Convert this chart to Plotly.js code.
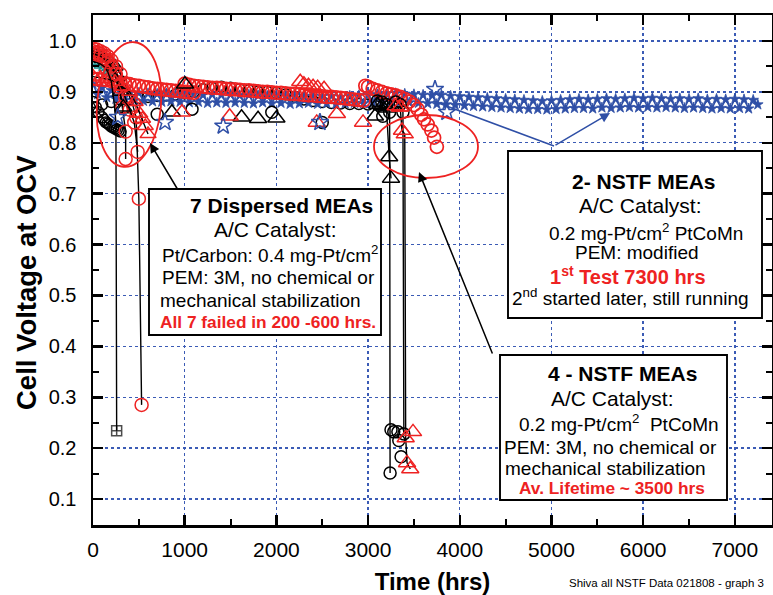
<!DOCTYPE html>
<html><head><meta charset="utf-8">
<script src="https://cdn.plot.ly/plotly-3.0.1.min.js"></script>
<style>body{margin:0;background:#fff}</style>
</head><body><div id="chart" style="width:773px;height:595px"></div>
<script>
// ---------------- DATA ----------------
const xTicks = [0,1000,2000,3000,4000,5000,6000,7000];
const yTicks = [0.1,0.2,0.3,0.4,0.5,0.6,0.7,0.8,0.9,1.0];

// NSTF 1st test (blue stars, 0 - 7250 hrs)
const blueX = [0,50,100,150,200,250,300,350,400,450,
500,550,600,650,700,750,800,850,900,950,
1000,1050,1100,1150,1200,1250,1300,1350,1400,1450,
1500,1550,1600,1650,1700,1750,1800,1850,1900,1950,
2000,2050,2100,2150,2200,2250,2300,2350,2400,2450,
2500,2550,2600,2650,2700,2750,2800,2850,2900,2950,
3000,3050,3100,3150,3200,3250,3300,3350,3400,3450,
3500,3550,3600,3650,3700,3750,3800,3850,3900,3950,
4000,4050,4100,4150,4200,4250,4300,4350,4400,4450,
4500,4550,4600,4650,4700,4750,4800,4850,4900,4950,
5000,5050,5100,5150,5200,5250,5300,5350,5400,5450,
5500,5550,5600,5650,5700,5750,5800,5850,5900,5950,
6000,6050,6100,6150,6200,6250,6300,6350,6400,6450,
6500,6550,6600,6650,6700,6750,6800,6850,6900,6950,
7000,7050,7100,7150,7200,7250];
const blueY = [0.915,0.895,0.908,0.889,0.903,0.886,0.901,0.884,0.899,0.883,
0.898,0.882,0.897,0.881,0.896,0.880,0.897,0.881,0.895,0.880,
0.896,0.879,0.895,0.880,0.894,0.878,0.895,0.879,0.894,0.878,
0.895,0.879,0.893,0.878,0.894,0.877,0.893,0.879,0.892,0.877,
0.893,0.878,0.892,0.876,0.893,0.877,0.891,0.878,0.892,0.876,
0.891,0.877,0.892,0.876,0.890,0.877,0.892,0.878,0.893,0.877,
0.894,0.879,0.895,0.880,0.896,0.881,0.897,0.880,0.896,0.879,
0.895,0.878,0.894,0.877,0.893,0.876,0.894,0.875,0.892,0.874,
0.891,0.873,0.890,0.872,0.889,0.871,0.888,0.870,0.887,0.869,
0.886,0.868,0.885,0.867,0.884,0.866,0.883,0.866,0.882,0.865,
0.883,0.866,0.884,0.867,0.885,0.868,0.886,0.868,0.885,0.867,
0.886,0.869,0.887,0.868,0.886,0.869,0.887,0.870,0.888,0.869,
0.887,0.870,0.888,0.869,0.887,0.870,0.886,0.869,0.887,0.868,
0.886,0.869,0.887,0.868,0.885,0.867,0.886,0.868,0.885,0.867,
0.886,0.868,0.885,0.867,0.884,0.875];
const blueStarX = [270,785,1420,2475,3730,3860];
const blueStarY = [0.850,0.840,0.833,0.840,0.905,0.860];

// red circle bands
const redBand1X = [0,50,100,150,200,250,300,350,400,450,500,550,600,650,700,750,800,850,900,950,1000,1050,1100];
const redBand1Y = [0.926,0.925,0.924,0.923,0.921,0.920,0.918,0.917,0.915,0.913,0.912,0.910,0.909,0.907,0.906,0.905,0.904,0.903,0.902,0.901,0.900,0.899,0.898];
const redBand2X = [1000,1050,1100,1150,1200,1250,1300,1350,1400,1450,1500,1550,1600,1650,1700,1750,1800,1850,1900,1950,
2000,2050,2100,2150,2200,2250,2300,2350,2400,2450,2500,2550,2600,2650,2700,2750,2800,2850,2900,2950];
const redBand2Y = [0.916,0.914,0.912,0.911,0.910,0.909,0.908,0.908,0.907,0.906,0.905,0.905,0.904,0.903,0.903,0.902,0.901,0.900,0.900,0.899,
0.898,0.898,0.897,0.896,0.896,0.895,0.894,0.893,0.893,0.892,0.891,0.890,0.890,0.889,0.888,0.887,0.886,0.885,0.884,0.883];
const redNstfX = [2970,3000,3050,3100,3150,3200,3250,3300,3350,3400,3450,3500,3540,3580,3610,3650,3690,3720,3750];
const redNstfY = [0.912,0.910,0.906,0.903,0.900,0.897,0.895,0.893,0.890,0.886,0.881,0.874,0.866,0.855,0.846,0.836,0.824,0.810,0.792];

// black circle band
const blackBandX = [0,100,200,300,400,500,600,700,800,900,1000,1100,1200,1300,1400,1500,1600,1700,1800,1900,2000,2100,2200,2300,2400,2500,2600,2700,2800,2900,3000,3100,3200];
const blackBandY = [0.870,0.875,0.880,0.885,0.886,0.888,0.890,0.892,0.893,0.895,0.897,0.900,0.905,0.908,0.910,0.908,0.905,0.903,0.900,0.900,0.898,0.895,0.890,0.885,0.882,0.880,0.878,0.877,0.876,0.876,0.875,0.875,0.874];
const blackCircX = [700,1080,1950,2500,3160];
const blackCircY = [0.856,0.866,0.860,0.840,0.852];
const blackTriX = [330,860,1003,1620,1800,2000,3075];
const blackTriY = [0.870,0.860,0.915,0.850,0.847,0.848,0.852];
const redTriX = [970,1490,2260,2300,2350,2400,2450,2520,2440,2660,2945,3350,3490];
const redTriY = [0.860,0.852,0.920,0.915,0.912,0.910,0.908,0.906,0.840,0.857,0.840,0.870,0.232];

// 7 dispersed MEAs (failed 200-600 hrs)
const d1X = [0,40,80,120,160,200,230,250,258];
const d1Y = [0.960,0.958,0.955,0.950,0.940,0.920,0.880,0.840,0.234];
const d2X = [0,40,80,120,160,200,250,300,350,400,440,470,500,530];
const d2Y = [0.985,0.983,0.980,0.976,0.970,0.962,0.950,0.935,0.915,0.890,0.870,0.850,0.690,0.285];
const d3X = [0,40,80,120,160,200,240,280,320,356,356];
const d3Y = [0.980,0.978,0.975,0.970,0.962,0.950,0.935,0.910,0.870,0.822,0.768];
const d4X = [0,40,80,120,160,200,250,300,350,400,450,487];
const d4Y = [0.975,0.973,0.970,0.965,0.958,0.950,0.935,0.915,0.890,0.865,0.840,0.782];
const d5X = [0,30,60,100,120,140,160,180,200,220,240,260,280,300];
const d5Y = [0.880,0.870,0.860,0.850,0.845,0.840,0.838,0.835,0.832,0.830,0.828,0.826,0.824,0.822];
const d6X = [0,50,100,150,200,240,270,300,330];
const d6Y = [0.970,0.968,0.965,0.960,0.955,0.950,0.930,0.900,0.866];
const d7X = [0,80,160,240,320,400,460,510,540,570,600];
const d7Y = [0.930,0.928,0.925,0.920,0.910,0.900,0.880,0.857,0.847,0.833,0.817];
const d8X = [0,50,100,150,200];
const d8Y = [0.955,0.950,0.945,0.940,0.935];

// 4 NSTF MEAs (av. lifetime ~3500 hrs)
const n1X = [3100,3150,3200,3235,3240];
const n1Y = [0.882,0.880,0.875,0.860,0.151];
const n2X = [3100,3150,3200,3230,3250];
const n2Y = [0.875,0.872,0.868,0.772,0.730];
const n3X = [3300,3350,3380,3390];
const n3Y = [0.880,0.875,0.860,0.228];
const n3cX = [3250,3280,3325,3335,3360];
const n3cY = [0.236,0.232,0.232,0.215,0.183];
const n4X = [3300,3350,3370,3400,3410,3425,3460];
const n4Y = [0.872,0.870,0.824,0.817,0.220,0.171,0.159];

// annotation texts
const yTitle = '<b>Cell Voltage at OCV</b>';
const xTitle = '<b>Time (hrs)</b>';
const box1Lines = ['<b>7 Dispersed MEAs</b>','A/C Catalyst:','Pt/Carbon: 0.4 mg-Pt/cm<sup>2</sup>','PEM: 3M, no chemical or','mechanical stabilization','<b>All 7 failed in 200 -600 hrs.</b>'];
const box2Lines = ['<b>2- NSTF MEAs</b>','A/C Catalyst:','0.2 mg-Pt/cm<sup>2</sup> PtCoMn','PEM: modified','<b>1<sup>st</sup> Test 7300 hrs</b>','2<sup>nd</sup> started later, still running'];
const box3Lines = ['<b>4 - NSTF MEAs</b>','A/C Catalyst:','0.2 mg-Pt/cm<sup>2</sup>  PtCoMn','PEM: 3M, no chemical or','mechanical stabilization','<b>Av. Lifetime ~ 3500 hrs</b>'];
const footnote = 'Shiva all NSTF Data 021808 - graph 3';

// ---------------- STYLE / LAYOUT ----------------
const RED = '#EE2222', BLUE = '#2F4FA6', BLK = '#000000';
const ARIAL = 'Arial, "Liberation Sans", sans-serif';
const P = {l:93, t:15, w:679, h:510};
const fx = x => (x - P.l) / P.w;
const fy = y => (P.t + P.h - y) / P.h;

function mk(x, y, sym, color, size, opts) {
  opts = opts || {};
  return {
    type:'scatter', x:x, y:y, mode: opts.line ? 'lines+markers' : 'markers',
    line: {color: opts.lineColor || BLK, width: opts.lw || 1.4},
    marker: {symbol: sym, size: size, color: color, line: {color: color, width: opts.mw || 1.5}},
    hoverinfo:'skip', showlegend:false
  };
}
const lastOnly = (arr, s) => arr.map((_, i) => i === arr.length - 1 ? s : 0);

const traces = [
  mk(blackBandX, blackBandY, 'circle-open', BLK, 11),
  mk(blueX, blueY, 'star', BLUE, 8, {line:true, lineColor:BLUE, lw:1.5, mw:0.8}),
  mk(blackCircX, blackCircY, 'circle-open', BLK, 12),
  mk(redBand1X, redBand1Y, 'circle-open', RED, 13, {mw:1.7}),
  mk(redBand2X, redBand2Y, 'circle-open', RED, 13, {mw:1.7}),
  mk(redNstfX, redNstfY, 'circle-open', RED, 13, {mw:1.7}),
  mk(d8X, d8Y, 'triangle-up-open', '#1A8C8C', 6, {line:true, lineColor:'#1A8C8C'}),
  mk(d5X, d5Y, 'circle-open', BLK, 11, {line:true}),
  mk(d6X, d6Y, 'triangle-up-open', BLK, 14, {line:true}),
  mk(d2X, d2Y, 'circle-open', RED, 13, {line:true}),
  mk(d3X, d3Y, 'circle-open', RED, 13, {line:true}),
  mk(d4X, d4Y, 'circle-open', RED, 13, {line:true}),
  mk(d7X, d7Y, 'triangle-up-open', RED, 14, {line:true}),
  mk(d1X, d1Y, 'square-cross-open', BLK, 10, {line:true}),
  mk(n1X, n1Y, 'circle-open', BLK, 12, {line:true}),
  mk(n2X, n2Y, 'triangle-up-open', BLK, 15, {line:true}),
  mk(n3X, n3Y, 'circle-open', BLK, 12, {line:true}),
  mk(n3cX, n3cY, 'circle-open', BLK, 12),
  mk(n4X, n4Y, 'triangle-up-open', RED, 15, {line:true}),
  mk(blackTriX, blackTriY, 'triangle-up-open', BLK, 15),
  mk(redTriX, redTriY, 'triangle-up-open', RED, 15),
  mk(blueStarX, blueStarY, 'star-open', BLUE, 13)
];
traces[13].marker.size = lastOnly(d1X, 10);

const axisCommon = {
  showline:true, linecolor:BLK, linewidth:2.5, mirror:'allticks',
  ticks:'inside', ticklen:10, tickwidth:2.5, tickcolor:BLK,
  showgrid:true, gridcolor:'#3B5BB5', griddash:'dot', gridwidth:1.4,
  zeroline:false, fixedrange:true
};
const layout = {
  width:773, height:595, autosize:false,
  margin:{l:P.l, r:773-P.l-P.w, t:P.t, b:595-P.t-P.h, pad:0},
  paper_bgcolor:'#fff', plot_bgcolor:'#fff',
  font:{family:ARIAL, color:BLK},
  xaxis: Object.assign({}, axisCommon, {
    range:[0,7405], tickmode:'array', tickvals:xTicks,
    tickfont:{family:ARIAL, size:21, color:BLK}, ticklabelstandoff:4,
    minor:{tickmode:'linear', tick0:0, dtick:500, ticks:'inside', ticklen:6, tickwidth:2, tickcolor:BLK, showgrid:false},
    title:{text:xTitle, font:{family:ARIAL, size:24, color:BLK}, standoff:14}
  }),
  yaxis: Object.assign({}, axisCommon, {
    range:[0.049,1.051], tickmode:'array', tickvals:yTicks, tickformat:'.1f',
    tickfont:{family:ARIAL, size:20, color:BLK}, ticklabelstandoff:10,
    minor:{tickmode:'linear', tick0:0.05, dtick:0.1, ticks:'inside', ticklen:6, tickwidth:2, tickcolor:BLK, showgrid:false}
  }),
  shapes:[], annotations:[]
};

layout.annotations.push({xref:'paper', yref:'paper', x:fx(26), y:fy(283), xanchor:'center', yanchor:'middle',
  textangle:-90, text:yTitle, showarrow:false, font:{family:ARIAL, size:27.5, color:BLK}});

function box(x0, y0, x1, y1) {
  layout.shapes.push({type:'rect', xref:'paper', yref:'paper', x0:fx(x0), x1:fx(x1), y0:fy(y1), y1:fy(y0),
    fillcolor:'#fff', line:{color:BLK, width:1.9}, layer:'above'});
}
box(149,189,381,335);
box(508,151,762,318);
box(500,355,727,500);

function tiltedEllipse(cx, cy, a, b, deg) {
  const t = deg * Math.PI / 180, k = 0.5523;
  const u = [Math.cos(t), Math.sin(t)], v = [-Math.sin(t), Math.cos(t)];
  const pt = (ca, cb) => [cx + ca * a * u[0] + cb * b * v[0], cy + ca * a * u[1] + cb * b * v[1]];
  const s = p => fx(p[0]).toFixed(5) + ',' + fy(p[1]).toFixed(5);
  const seq = [[1,0],[0,1],[-1,0],[0,-1],[1,0]];
  let d = 'M' + s(pt(1,0));
  for (let i = 0; i < 4; i++) {
    const p0 = seq[i], p1 = seq[i+1];
    const c1 = pt(p0[0] + k * p1[0], p0[1] + k * p1[1]);
    const c2 = pt(p1[0] + k * p0[0], p1[1] + k * p0[1]);
    d += ' C' + s(c1) + ' ' + s(c2) + ' ' + s(pt(p1[0], p1[1]));
  }
  layout.shapes.push({type:'path', xref:'paper', yref:'paper', path:d + ' Z', line:{color:RED, width:1.8}, layer:'above'});
}
tiltedEllipse(129, 104.5, 32, 62.5, 5);
tiltedEllipse(426, 146.5, 52, 31.5, 0);

layout.shapes.push({type:'line', xref:'paper', yref:'paper', x0:fx(433), y0:fy(101), x1:fx(554), y1:fy(146), line:{color:BLUE, width:1.5}, layer:'above'});
function arrow(hx, hy, tx, ty, color) {
  layout.annotations.push({xref:'paper', yref:'paper', x:fx(hx), y:fy(hy), ax:tx-hx, ay:ty-hy, text:'',
    showarrow:true, arrowhead:2, arrowsize:1.3, arrowwidth:1.5, arrowcolor:color, standoff:0, startstandoff:0});
}
arrow(610,113,554,146,BLUE);
arrow(150,143,178,190,BLK);
arrow(419,172,493,355,BLK);

function lines(arr, cxs, cys, styles) {
  arr.forEach((t, i) => {
    layout.annotations.push({xref:'paper', yref:'paper', x:fx(cxs[i]), y:fy(cys[i]), xanchor:'center', yanchor:'middle',
      text:t, showarrow:false, font:styles[i]});
  });
}
const fBold = {family:ARIAL, size:21, color:BLK};
const fCat = {family:ARIAL, size:21, color:BLK};
const fReg = {family:ARIAL, size:19, color:BLK};
const fRedN = {family:ARIAL, size:17.3, color:RED};
const fRed = {family:ARIAL, size:20, color:RED};
lines(box1Lines, [281,275,270,268,260,268], [205,230,254,277,300,322], [fBold,fCat,fReg,fReg,fReg,fRedN]);
lines(box2Lines, [644,640,646,637,628,630], [182,205,232,252,275,297], [fBold,fCat,fReg,fReg,fRed,fReg]);
lines(box3Lines, [622,612,619,610,605,612], [373,398,423,447,468,488], [fBold,fCat,fReg,fReg,fReg,fRedN]);

layout.annotations.push({xref:'paper', yref:'paper', x:fx(666), y:fy(583), xanchor:'center', yanchor:'middle',
  text:footnote, showarrow:false, font:{family:ARIAL, size:11.5, color:BLK}});

Plotly.newPlot('chart', traces, layout, {displayModeBar:false, staticPlot:true});
</script>
</body></html>
